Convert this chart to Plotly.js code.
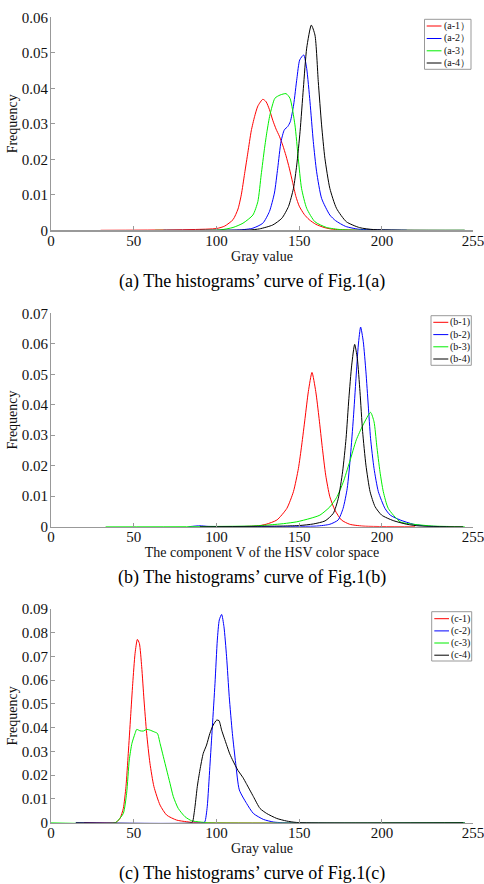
<!DOCTYPE html>
<html>
<head>
<meta charset="utf-8">
<script src="https://cdn.plot.ly/plotly-3.0.1.min.js"></script>
<style>html,body{margin:0;padding:0;background:#fff;}#chart{width:484px;height:884px;}</style>
</head>
<body>
<div id="chart"></div>
<script>
// ---------- DATA ----------
var seriesColors = ['#ff0000', '#0000ff', '#00ee00', '#000000'];
var xTickVals = [0, 50, 100, 150, 200, 255];

// Panel (a): gray value histograms
var namesA = ['(a-1）', '(a-2）', '(a-3）', '(a-4）'];
var a1x = [30, 100, 105, 110, 113, 115, 117, 119, 121, 123, 125, 128, 130, 132, 134, 136, 138, 140, 142, 144, 146, 148, 150, 153, 156, 160, 165, 170, 180, 200];
var a1y = [0, 0.0005, 0.0012, 0.003, 0.006, 0.010, 0.016, 0.022, 0.028, 0.032, 0.035, 0.0369, 0.0362, 0.034, 0.031, 0.0285, 0.0265, 0.024, 0.021, 0.0175, 0.0135, 0.0095, 0.0068, 0.0045, 0.003, 0.0017, 0.0008, 0.0003, 0.0001, 0];
var a2x = [68, 114, 122, 128, 132, 135, 137, 139, 141, 143, 144.6, 146.6, 148.6, 150.3, 152.7, 154.5, 156.5, 158.5, 160.5, 163.5, 168.5, 172, 178, 186, 200, 215];
var a2y = [0, 0.0001, 0.0006, 0.002, 0.0053, 0.0105, 0.0175, 0.025, 0.0283, 0.0292, 0.0306, 0.0353, 0.0428, 0.048, 0.0494, 0.0456, 0.0362, 0.025, 0.0165, 0.009, 0.0043, 0.0027, 0.0011, 0.0003, 0.0001, 0];
var a3x = [63, 102, 110, 116, 122, 125, 127, 129, 130.5, 132.3, 135.3, 138.4, 142, 144.4, 147.4, 149.4, 151.4, 154.5, 159.5, 166.5, 175, 190, 250];
var a3y = [0, 0.0001, 0.0008, 0.002, 0.0043, 0.0081, 0.0156, 0.023, 0.0278, 0.0325, 0.0372, 0.0381, 0.0385, 0.0372, 0.0297, 0.0203, 0.0118, 0.0062, 0.0024, 0.0008, 0.0002, 0, 0];
var a4x = [90, 120, 126, 134, 139.5, 143.5, 146.5, 148.5, 150.5, 152.5, 154.5, 157.3, 159.5, 161.5, 163.5, 165.5, 168.5, 172.5, 178.5, 186.5, 195, 250];
var a4y = [0, 0.0001, 0.0004, 0.0015, 0.0034, 0.0067, 0.0118, 0.0184, 0.0278, 0.040, 0.0513, 0.0578, 0.055, 0.0419, 0.0297, 0.0203, 0.0118, 0.0062, 0.0024, 0.00075, 0.0002, 0];

// Panel (b): V component of HSV
var namesB = ['(b-1)', '(b-2)', '(b-3)', '(b-4)'];
var b1x = [100, 124, 130, 136.5, 142.5, 146.5, 149.5, 151.5, 153.5, 155.5, 157.7, 160, 162, 164, 166, 168.5, 171.5, 175.5, 180.5, 188.5, 220];
var b1y = [0, 0.0002, 0.0008, 0.0022, 0.006, 0.0115, 0.0191, 0.0268, 0.0355, 0.0443, 0.0506, 0.0443, 0.0355, 0.0257, 0.0169, 0.0098, 0.0055, 0.0022, 0.0008, 0.0002, 0];
var b2x = [83, 90, 95, 140, 160.5, 168.5, 173.5, 176.5, 179, 181, 182.7, 184.3, 185.7, 187.1, 188.7, 190.3, 191.7, 193.1, 195.2, 197.8, 201.8, 205, 211, 219, 227, 240];
var b2y = [0, 0.0003, 0.0001, 0.0001, 0.0002, 0.0008, 0.0022, 0.006, 0.0126, 0.0235, 0.0355, 0.0487, 0.0596, 0.0655, 0.0607, 0.0508, 0.0399, 0.029, 0.0191, 0.0115, 0.006, 0.0038, 0.0022, 0.0008, 0.0002, 0];
var b3x = [33, 120, 130, 140.5, 148.5, 156.5, 162.5, 168.5, 172.5, 176.5, 180.5, 184.5, 188.5, 193.1, 195.2, 196.8, 198.8, 200.8, 203.8, 211, 219, 231, 250];
var b3y = [0, 0.0002, 0.0005, 0.001, 0.0016, 0.0027, 0.0038, 0.0065, 0.0095, 0.0145, 0.0213, 0.0285, 0.0333, 0.0375, 0.0344, 0.0268, 0.018, 0.0115, 0.006, 0.0016, 0.0008, 0.0002, 0];
var b4x = [90, 140.5, 150.5, 158.5, 165.6, 170.6, 173.6, 176.2, 178.3, 180, 181.7, 183.5, 185.1, 186.7, 188.3, 190.3, 192.8, 195.8, 199.8, 206.8, 215, 223, 249];
var b4y = [0, 0.0002, 0.0004, 0.0009, 0.0019, 0.0044, 0.0093, 0.018, 0.029, 0.0421, 0.053, 0.0598, 0.0552, 0.0443, 0.0312, 0.0202, 0.0115, 0.0066, 0.0038, 0.002, 0.0008, 0.0002, 0];

// Panel (c): gray value histograms
var namesC = ['(c-1)', '(c-2)', '(c-3)', '(c-4)'];
var c1x = [20, 38.7, 39.7, 41.7, 43.7, 45.3, 46.7, 48.1, 49.4, 50.8, 52.2, 53.4, 54.8, 56.2, 57.8, 59.8, 62.2, 65.9, 69.9, 75.9, 82, 86, 250];
var c1y = [0, 0, 0.0003, 0.0018, 0.006, 0.0152, 0.0292, 0.0446, 0.0587, 0.0713, 0.0772, 0.0755, 0.0657, 0.0517, 0.0376, 0.025, 0.0152, 0.0074, 0.0032, 0.0011, 0.0004, 0.0001, 0];
var c2x = [15, 92, 93, 94.4, 96, 97.5, 99.1, 100.5, 101.7, 103.1, 104.5, 106.1, 107.7, 109.6, 111.6, 113.8, 118.2, 122.3, 128.3, 134.3, 140, 250];
var c2y = [0, 0, 0.0004, 0.0067, 0.0236, 0.0404, 0.0587, 0.0769, 0.0854, 0.0877, 0.0826, 0.0699, 0.0531, 0.0376, 0.025, 0.0138, 0.0081, 0.0039, 0.0014, 0.0003, 0, 0];
var c3x = [0, 39, 40.7, 43.7, 45.7, 47.3, 48.9, 50.8, 51.8, 53.8, 55.8, 57.8, 59.8, 62.2, 64.3, 65.9, 67.9, 69.9, 71.9, 73.9, 76.9, 81, 85, 90, 95, 250];
var c3y = [0, 0, 0.0011, 0.0039, 0.0124, 0.0264, 0.0334, 0.0376, 0.0393, 0.0387, 0.0386, 0.0393, 0.039, 0.0383, 0.0376, 0.0334, 0.0278, 0.0222, 0.0166, 0.011, 0.006, 0.0025, 0.0008, 0.0003, 0, 0];
var c4x = [15, 85, 85.6, 87, 88.4, 90, 92, 94, 96, 98, 100.1, 101.5, 103.1, 106, 108, 110, 113, 116, 118, 122.3, 126.3, 130.3, 136.4, 142.4, 148.4, 249];
var c4y = [0, 0, 0.0004, 0.0067, 0.0152, 0.0222, 0.0292, 0.0327, 0.0376, 0.0411, 0.0432, 0.043, 0.039, 0.033, 0.029, 0.026, 0.022, 0.019, 0.0165, 0.011, 0.006, 0.0039, 0.0018, 0.0007, 0.0001, 0];

var yMaxA = 0.06, yMaxB = 0.07, yMaxC = 0.09;
var xTitleA = 'Gray value', xTitleB = 'The component V of the HSV color space', xTitleC = 'Gray value';
var yTitle = 'Frequency';
var captions = ['(a) The histograms’ curve of Fig.1(a)', '(b) The histograms’ curve of Fig.1(b)', '(c) The histograms’ curve of Fig.1(c)'];

// ---------- BUILD ----------
var W = 484, H = 884;
function px(x) { return x / W; }
function py(y) { return 1 - y / H; }
var FONT = 'Liberation Serif, Times New Roman, serif';

var panels = [
  {xs: [a1x, a2x, a3x, a4x], ys: [a1y, a2y, a3y, a4y], names: namesA, top: 17.3, bot: 230.3, ymax: yMaxA, xt: xTitleA,
   leg: {x0: 424.5, x1: 471, y0: 19.3, y1: 69.3, rows: [26, 38.5, 50.8, 63], lx0: 426.7, lx1: 441.5, tx: 441.5}, cap: 281.7},
  {xs: [b1x, b2x, b3x, b4x], ys: [b1y, b2y, b3y, b4y], names: namesB, top: 313.3, bot: 526.7, ymax: yMaxB, xt: xTitleB,
   leg: {x0: 431, x1: 471.3, y0: 315.7, y1: 365.3, rows: [322.3, 334.6, 346.8, 359], lx0: 433.3, lx1: 448.3, tx: 448.3}, cap: 577},
  {xs: [c1x, c2x, c3x, c4x], ys: [c1y, c2y, c3y, c4y], names: namesC, top: 609, bot: 822.7, ymax: yMaxC, xt: xTitleC,
   leg: {x0: 431.7, x1: 471.7, y0: 611.7, y1: 661, rows: [618.7, 630.9, 643, 655.2], lx0: 434.3, lx1: 449, tx: 449}, cap: 873}
];

var traces = [], shapes = [], annotations = [];
var layout = {
  width: W, height: H, margin: {l: 0, r: 0, t: 0, b: 0},
  paper_bgcolor: '#fff', plot_bgcolor: '#fff', showlegend: false,
  font: {family: FONT, color: '#111', size: 14}
};

panels.forEach(function (p, i) {
  var sfx = i === 0 ? '' : String(i + 1);
  for (var k = 0; k < 4; k++) {
    traces.push({
      type: 'scatter', mode: 'lines', x: p.xs[k], y: p.ys[k], name: p.names[k],
      xaxis: 'x' + sfx, yaxis: 'y' + sfx,
      line: {color: seriesColors[k], width: 1, shape: 'spline', smoothing: 0.6},
      hoverinfo: 'x+y+name'
    });
  }
  layout['xaxis' + sfx] = {
    domain: [px(51), px(473)], anchor: 'y' + sfx, range: [0, 255],
    tickmode: 'array', tickvals: xTickVals, ticktext: xTickVals.map(String),
    ticks: 'inside', ticklen: 4, tickcolor: '#999', showline: true, linecolor: '#999', linewidth: 1.5,
    showgrid: false, zeroline: false, tickfont: {size: 15, family: FONT}, ticklabelstandoff: -4,
    ticklabeloverflow: 'allow',
    title: {text: p.xt, font: {size: 14, family: FONT}, standoff: 0}
  };
  layout['yaxis' + sfx] = {
    domain: [py(p.bot), py(p.top)], anchor: 'x' + sfx, range: [0, p.ymax],
    tick0: 0, dtick: 0.01, ticks: 'inside', ticklen: 4, tickcolor: '#999',
    showline: true, linecolor: '#999', linewidth: 1, showgrid: false, zeroline: false,
    tickfont: {size: 15, family: FONT}, ticklabelstandoff: -1, ticklabeloverflow: 'allow',
    title: {text: yTitle, font: {size: 14, family: FONT}, standoff: 0}
  };
  // legend box
  var L = p.leg;
  shapes.push({type: 'rect', xref: 'paper', yref: 'paper', x0: px(L.x0), x1: px(L.x1), y0: py(L.y1), y1: py(L.y0),
    line: {color: '#999', width: 1}, fillcolor: '#fff', layer: 'above'});
  for (var k2 = 0; k2 < 4; k2++) {
    shapes.push({type: 'line', xref: 'paper', yref: 'paper', x0: px(L.lx0), x1: px(L.lx1), y0: py(L.rows[k2]), y1: py(L.rows[k2]),
      line: {color: seriesColors[k2], width: 1}, layer: 'above'});
    annotations.push({xref: 'paper', yref: 'paper', x: px(L.tx), y: py(L.rows[k2]), xanchor: 'left', yanchor: 'middle',
      text: p.names[k2], showarrow: false, font: {size: 10, family: FONT, color: '#111'}});
  }
  annotations.push({xref: 'paper', yref: 'paper', x: px(252), y: py(p.cap), xanchor: 'center', yanchor: 'middle',
    text: captions[i], showarrow: false, font: {size: 18, family: FONT, color: '#000'}});
});
layout.shapes = shapes;
layout.annotations = annotations;

Plotly.newPlot('chart', traces, layout, {staticPlot: true, displayModeBar: false});
</script>
</body>
</html>
